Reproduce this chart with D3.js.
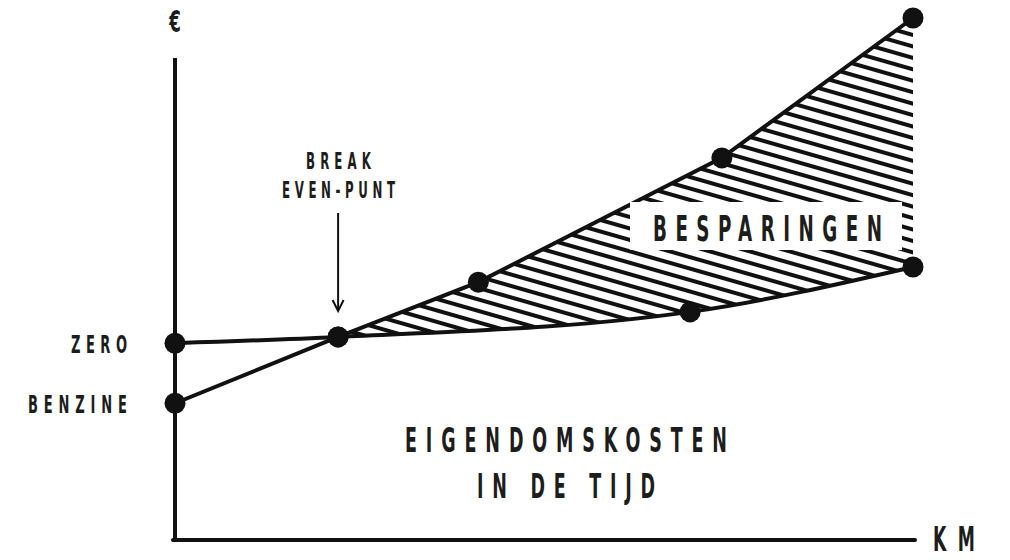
<!DOCTYPE html>
<html>
<head>
<meta charset="utf-8">
<script src="https://cdn.jsdelivr.net/npm/d3@7"></script>
<style>
  body { margin: 0; background: #fff; }
  text { font-family: "DejaVu Sans Condensed", "DejaVu Sans", sans-serif; font-weight: bold; fill: #1d1d1b; }
</style>
</head>
<body>
<svg width="1010" height="560"></svg>
<script>
// km (0-100) and cost (0-100)
const benzineKm = [0, 22.1, 41.1, 74.1, 100]
const benzineCost = [26.2, 38.9, 49.4, 73.2, 100]
const zeroKm = [0, 22.1, 69.8, 100]
const zeroCost = [37.7, 38.9, 43.7, 52.3]
const seriesLabels = ['ZERO', 'BENZINE']
const breakEvenKm = 22.1

const svg = d3.select('svg')
const ink = '#111'
const squeeze = 0.58 // fake a condensed face

const x = d3.scaleLinear().domain([0, 100]).range([175, 913])
const y = d3.scaleLinear().domain([0, 100]).range([540, 18])

const benzine = benzineKm.map((k, i) => ({ km: k, cost: benzineCost[i] }))
const zero = zeroKm.map((k, i) => ({ km: k, cost: zeroCost[i] }))

// narrow text: left x, baseline y, font size, full width
const label = (str, lx, by, size, w) => {
  svg.append('g')
      .attr('transform', `translate(${lx},${by}) scale(${squeeze},1)`)
    .append('text')
      .attr('font-size', size)
      .attr('textLength', w / squeeze)
      .attr('lengthAdjust', 'spacing')
      .text(str)
}

// hatch pattern
const defs = svg.append('defs')
defs.append('pattern')
    .attr('id', 'hatch')
    .attr('patternUnits', 'userSpaceOnUse')
    .attr('width', 11).attr('height', 11)
    .attr('patternTransform', 'rotate(16)')
  .append('rect')
    .attr('x', 0).attr('y', 0)
    .attr('width', 11).attr('height', 4)
    .attr('fill', ink)

const straight = d3.line().x(d => x(d.km)).y(d => y(d.cost))
const curved = d3.line().x(d => x(d.km)).y(d => y(d.cost)).curve(d3.curveMonotoneX)

// savings area between the two lines after break even
const upper = benzine.filter(d => d.km >= breakEvenKm)
const lower = zero.filter(d => d.km >= breakEvenKm)
const lowerPath = curved(lower.slice().reverse())
svg.append('path')
    .attr('d', straight(upper) + lowerPath.replace(/^M/, 'L') + 'Z')
    .attr('fill', 'url(#hatch)')

// axes
svg.append('line')
    .attr('x1', x(0)).attr('x2', x(0))
    .attr('y1', 58).attr('y2', y(0))
    .attr('stroke', ink).attr('stroke-width', 4)
svg.append('line')
    .attr('x1', x(0) - 2).attr('x2', x(100) + 2)
    .attr('y1', y(0)).attr('y2', y(0))
    .attr('stroke', ink).attr('stroke-width', 4).attr('stroke-linecap', 'round')

// lines
svg.append('path').attr('d', straight(benzine))
    .attr('fill', 'none').attr('stroke', ink).attr('stroke-width', 4)
svg.append('path').attr('d', curved(zero))
    .attr('fill', 'none').attr('stroke', ink).attr('stroke-width', 4)

// dots
svg.selectAll('circle.dot').data(benzine.concat(zero))
  .enter().append('circle')
    .attr('class', 'dot')
    .attr('cx', d => x(d.km))
    .attr('cy', d => y(d.cost))
    .attr('r', 10.5)
    .attr('fill', ink)

// series labels, right edge at x=127
label(seriesLabels[0], 71, y(zero[0].cost) + 10, 25, 56)
label(seriesLabels[1], 28, y(benzine[0].cost) + 10, 25, 99)

// axis titles
svg.append('g')
    .attr('transform', `translate(${x(0)},32) scale(0.62,1)`)
  .append('text')
    .attr('text-anchor', 'middle').attr('font-size', 30).text('€')
label('KM', 933, 551, 33, 42)

// break even note
const bx = x(breakEvenKm)
label('BREAK', 306, 169, 22.6, 65)
label('EVEN-PUNT', 282, 198, 22.6, 113)
svg.append('line')
    .attr('x1', bx).attr('x2', bx).attr('y1', 213).attr('y2', 310)
    .attr('stroke', ink).attr('stroke-width', 2)
svg.append('path')
    .attr('d', `M${bx - 5.5},${300} L${bx},${311} L${bx + 5.5},${300}`)
    .attr('fill', 'none').attr('stroke', ink).attr('stroke-width', 2)

// savings label
svg.append('rect').attr('x', 630).attr('y', 202)
    .attr('width', 272).attr('height', 48).attr('fill', '#fff')
label('BESPARINGEN', 653, 241, 35, 229)

// bottom caption
label('EIGENDOMSKOSTEN', 405, 452, 33.5, 322)
label('IN DE TIJD', 477, 498, 33.5, 178)
</script>
</body>
</html>
